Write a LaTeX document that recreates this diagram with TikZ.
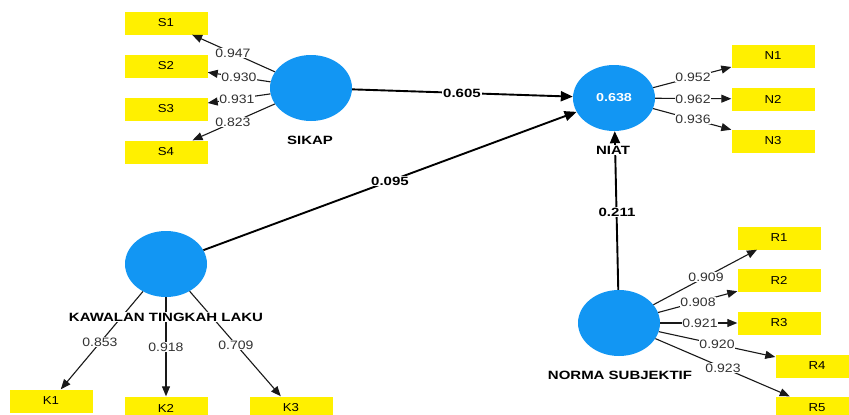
\documentclass[tikz,border=0pt]{standalone}
\usepackage{fontspec}
\setmainfont{Liberation Sans}
\newfontfamily\numfont[FakeStretch=1.15]{Liberation Sans}
\newfontfamily\boldwide[FakeStretch=1.25]{Liberation Sans}
\usetikzlibrary{shapes.geometric,arrows.meta}
\definecolor{lvblue}{RGB}{18,150,243}
\definecolor{indyel}{RGB}{255,240,0}
\definecolor{numgray}{RGB}{50,50,50}
\begin{document}
\begin{tikzpicture}[x=1pt,y=-1pt,
  lv/.style={ellipse,fill=lvblue,minimum width=82pt,minimum height=66pt,inner sep=0pt,text=white,font=\boldwide\bfseries\fontsize{11.5}{13}\selectfont},
  ind/.style={rectangle,fill=indyel,minimum width=83pt,minimum height=23pt,inner sep=0pt,font=\numfont\fontsize{11.5}{13}\selectfont},
  load/.style={draw=black!90,line width=1.1pt,-{Triangle[length=10pt,width=8pt]}},
  pth/.style={draw=black,line width=1.9pt,-{Triangle[length=12pt,width=10pt]}},
  num/.style={fill=white,inner sep=0.8pt,text=numgray,font=\numfont\fontsize{12.2}{14}\selectfont},
  pnum/.style={fill=white,inner sep=1pt,font=\boldwide\bfseries\fontsize{12}{14}\selectfont},
  lvname/.style={fill=white,inner sep=1pt,font=\boldwide\bfseries\fontsize{12}{14}\selectfont}]
\fill[white] (0,0) rectangle (849,415);
\useasboundingbox (0,0) rectangle (849,415);
% latent variables
\node[lv] (sikap) at (311,88) {};
\node[lv] (niat) at (614,98) {0.638};
\node[lv] (kaw) at (166,264) {};
\node[lv] (norma) at (619,323) {};
% indicators
\node[ind] (s1) at (166,23) {S1};
\node[ind] (s2) at (166,66) {S2};
\node[ind] (s3) at (166,109) {S3};
\node[ind] (s4) at (166,152) {S4};
\node[ind] (n1) at (773,56) {N1};
\node[ind] (n2) at (773,99) {N2};
\node[ind] (n3) at (773,141) {N3};
\node[ind] (k1) at (51,401) {K1};
\node[ind] (k2) at (166,408) {K2};
\node[ind] (k3) at (291,408) {K3};
\node[ind] (r1) at (779,238) {R1};
\node[ind] (r2) at (779,280) {R2};
\node[ind] (r3) at (779,323) {R3};
\node[ind] (r4) at (817,366) {R4};
\node[ind] (r5) at (817,408) {R5};
% loadings
\draw[load] (sikap) -- (s1);
\draw[load] (sikap) -- (s2);
\draw[load] (sikap) -- (s3);
\draw[load] (sikap) -- (s4);
\draw[load] (niat) -- (n1);
\draw[load] (niat) -- (n2);
\draw[load] (niat) -- (n3);
\draw[load] (kaw) -- (k1);
\draw[load] (kaw) -- (k2);
\draw[load] (kaw) -- (k3);
\draw[load] (norma) -- (r1);
\draw[load] (norma) -- (r2);
\draw[load] (norma) -- (r3);
\draw[load] (norma) -- (r4);
\draw[load] (norma) -- (r5);
% paths
\draw[pth] (sikap) -- (niat);
\draw[pth] (kaw) -- (niat);
\draw[pth] (norma) -- (niat);
% loading values
\node[num] (l947) at (233,53) {0.947};
\node[num] (l930) at (239,77) {0.930};
\node[num] (l931) at (237,99) {0.931};
\node[num] (l823) at (233,122) {0.823};
\node[num] (l952) at (693,77) {0.952};
\node[num] (l962) at (693,99) {0.962};
\node[num] (l936) at (693,119) {0.936};
\node[num] (l853) at (100,342) {0.853};
\node[num] (l918) at (166,347) {0.918};
\node[num] (l709) at (236,345) {0.709};
\node[num] (l909) at (706,277) {0.909};
\node[num] (l908) at (698,302) {0.908};
\node[num] (l921) at (700,323) {0.921};
\node[num] (l920) at (717,344) {0.920};
\node[num] (l923) at (723,368) {0.923};
% path coefficients
\node[pnum] (p605) at (462,93) {0.605};
\node[pnum] (p095) at (390,181) {0.095};
\node[pnum] (p211) at (617,212) {0.211};
% construct names
\node[lvname] (nsikap) at (310,140) {SIKAP};
\node[lvname] (nniat) at (613,150) {NIAT};
\node[lvname] (nkaw) at (166,317) {KAWALAN TINGKAH LAKU};
\node[lvname] (nnorma) at (620,375) {NORMA SUBJEKTIF};
\end{tikzpicture}
\end{document}
